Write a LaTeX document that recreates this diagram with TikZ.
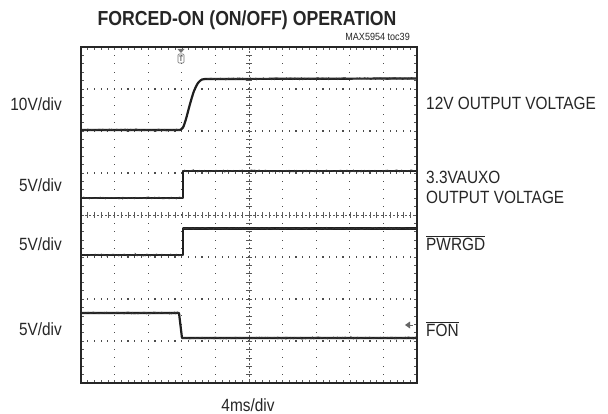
\documentclass[tikz,border=0pt]{standalone}
\usepackage{fontspec}
\setmainfont{Liberation Sans}[FakeStretch=0.87]
\usetikzlibrary{decorations.pathmorphing}
\begin{document}
\begin{tikzpicture}[x=1pt,y=-1pt,
  lbl/.style={inner sep=0pt, font=\fontsize{17.7}{20}\selectfont, text=black!85},
  trace/.style={line width=2.2pt, draw=black!88, line join=round},
  noise/.style={line width=0.9pt, draw=black!80, decorate, decoration={random steps, segment length=1.3pt, amplitude=0.9pt}},
  griddot/.style={fill=black!70},
  tick/.style={draw=black!65, line width=0.6pt},
  frm/.style={line width=2.4pt, draw=black!85}]
\pgfmathsetseed{7}
\useasboundingbox[fill=white] (0,0) rectangle (608,414);
% dotted grid lines
\foreach \j in {1,2,3,5,6,7}{
  \foreach \k in {1,...,49}{
    \fill[griddot] ({81+6.72*\k-0.6},{47+42*\j-0.6}) rectangle +(1.2,1.2);
  }
}
\foreach \i in {1,2,3,4,6,7,8,9}{
  \foreach \k in {1,...,39}{
    \fill[griddot] ({81+33.6*\i-0.6},{47+8.4*\k-0.6}) rectangle +(1.2,1.2);
  }
}
% centre cross with minor ticks
\draw[tick, dash pattern=on 2pt off 2pt] (81,215) -- (417,215);
\draw[tick, dash pattern=on 2pt off 2pt] (249,47) -- (249,383);
\foreach \k in {1,...,49}{
  \draw[tick] ({81+6.72*\k},212) -- ({81+6.72*\k},218);
  \draw[tick] ({81+6.72*\k},47) -- ({81+6.72*\k},50);
  \draw[tick] ({81+6.72*\k},380) -- ({81+6.72*\k},383);
}
\foreach \k in {1,...,39}{
  \draw[tick] (246,{47+8.4*\k}) -- (252,{47+8.4*\k});
  \draw[tick] (81,{47+8.4*\k}) -- (84,{47+8.4*\k});
  \draw[tick] (414,{47+8.4*\k}) -- (417,{47+8.4*\k});
}
% traces
\draw[trace] (82,130) -- (180,130)
  plot[smooth] coordinates {(180,130) (183,127.5) (186,119) (190,104) (194,91) (198,83) (202,79.5) (207,79)}
  -- (416,78.5);
\draw[noise] (82,130) -- (180,130);
\draw[noise] (207,79) -- (416,78.5);
\draw[trace] (82,198) -- (183,198) -- (183,171) -- (416,171);
\draw[noise] (82,198) -- (183,198);
\draw[noise] (183,171) -- (416,171);
\draw[trace] (82,255) -- (183,255) -- (183,228.5) -- (416,228.5);
\draw[noise] (82,255) -- (183,255);
\draw[noise] (183,228.5) -- (416,228.5);
\draw[trace] (82,313) -- (179,313) -- (182,338) -- (416,338);
\draw[noise] (82,313) -- (179,313);
\draw[noise] (182,338) -- (416,338);
% markers
\fill[black!55] (177.5,49) -- (184.5,49) -- (181,53) -- cycle;
\draw[black!55, line width=0.7pt, rounded corners=1pt] (178,54) rectangle (184,63);
\node[inner sep=0pt, font=\fontsize{8}{8}\selectfont\bfseries, text=black!60] (trig) at (181,58.5) {T};
\draw[black!60, line width=0.8pt] (407,325) -- (413,325);
\fill[black!60] (405,325) -- (410,321.5) -- (410,328.5) -- cycle;
% frame
\draw[frm] (81,47) rectangle (417,383);
% texts
\node[inner sep=0pt, font=\fontsize{20.3}{23}\selectfont\bfseries, text=black!85] (title) at (247,20) {FORCED-ON (ON/OFF) OPERATION};
\node[inner sep=0pt, anchor=east, font=\fontsize{10.4}{12}\selectfont, text=black!85] (toc) at (410,37) {MAX5954 toc39};
\node[lbl, anchor=east] (s1) at (62,104) {10V/div};
\node[lbl, anchor=east] (s2) at (62,185) {5V/div};
\node[lbl, anchor=east] (s3) at (62,244) {5V/div};
\node[lbl, anchor=east] (s4) at (62,329) {5V/div};
\node[lbl, anchor=west] (l1) at (426,103) {12V OUTPUT VOLTAGE};
\node[lbl, anchor=west] (l2) at (426,177) {3.3VAUXO};
\node[lbl, anchor=west] (l3) at (426,197) {OUTPUT VOLTAGE};
\node[lbl, anchor=west] (l4) at (426,243) {$\overline{\hbox{PWRGD}}$};
\node[lbl, anchor=west] (l5) at (426,329) {$\overline{\hbox{FON}}$};
\node[lbl] (tb) at (248,405) {4ms/div};
\end{tikzpicture}
\end{document}
